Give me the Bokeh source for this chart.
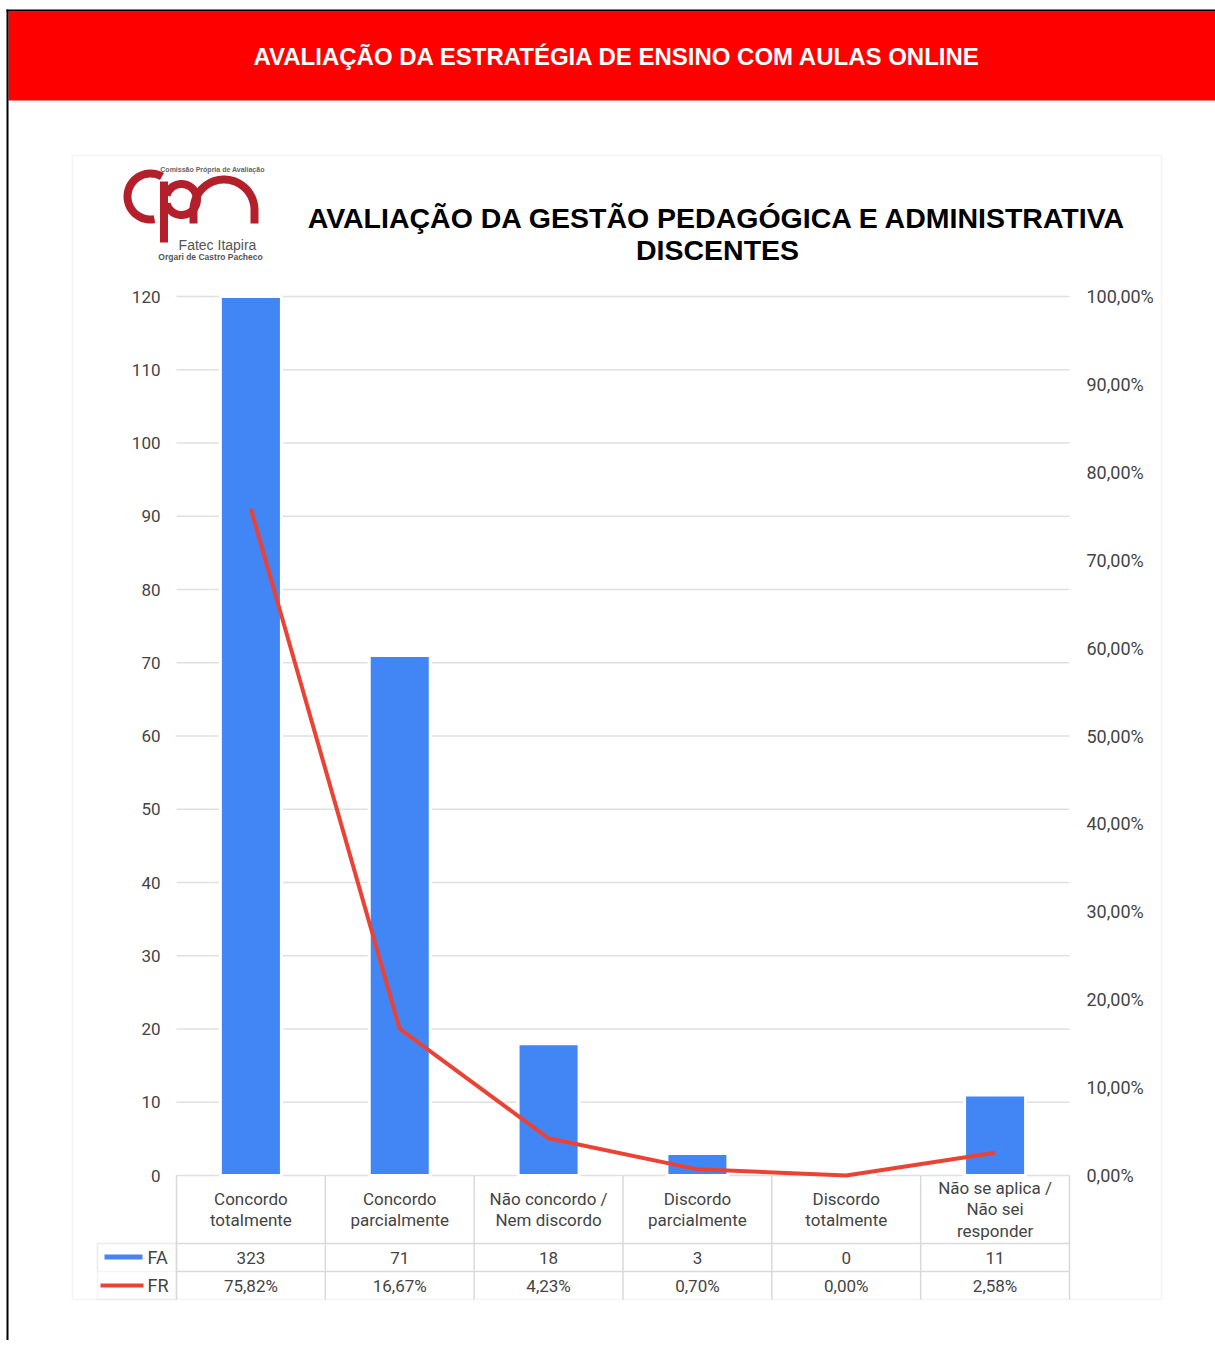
import numpy as np
from bokeh.plotting import figure
from bokeh.models import (Range1d, LinearAxis, FixedTicker, BoxAnnotation, Label,
                          PolyAnnotation, ColumnDataSource, CustomJSTickFormatter)
from bokeh.core.properties import value
from bokeh.embed import file_html
from bokeh.resources import INLINE

# ---------------- data ----------------
header_title = "AVALIAÇÃO DA ESTRATÉGIA DE ENSINO COM AULAS ONLINE"
chart_title = ["AVALIAÇÃO DA GESTÃO PEDAGÓGICA E ADMINISTRATIVA", "DISCENTES"]
categories = ["Concordo\ntotalmente", "Concordo\nparcialmente", "Não concordo /\nNem discordo",
              "Discordo\nparcialmente", "Discordo\ntotalmente", "Não se aplica /\nNão sei\nresponder"]
fa = [323, 71, 18, 3, 0, 11]
fr = [75.82, 16.67, 4.23, 0.70, 0.00, 2.58]
left_ticks = [0, 10, 20, 30, 40, 50, 60, 70, 80, 90, 100, 110, 120]
right_ticks = [0, 10, 20, 30, 40, 50, 60, 70, 80, 90, 100]
series_names = ["FA", "FR"]
logo_texts = ["Comissão Própria de Avaliação", "Fatec Itapira", "Orgari de Castro Pacheco"]

# ---------------- layout (page pixels) ----------------
W, H = 1215, 1340
FL, FRR = 176, 1069          # plot area left / right
Y0, YT = 1175, 296           # pixel rows of 0 and of the axis maximum
ymax = left_ticks[-1]
unit = (Y0 - YT) / ymax
n = len(categories)

def X(px):
    return (px - FL) * n / (FRR - FL)

def Y(py):
    return (Y0 - py) / unit

BLUE = "#4285F4"
RED = "#EA4335"
GRID = "#e0e0e0"
TBL = "#d9d9d9"
TXT = "#444444"
FONT = "Roboto"

p = figure(width=W, height=H, output_backend="svg", toolbar_location=None,
           x_range=Range1d(X(0), X(W)), y_range=Range1d(Y(H), Y(0)),
           min_border=0, min_border_left=0, min_border_right=0,
           min_border_top=0, min_border_bottom=0,
           background_fill_color="white", border_fill_color="white",
           outline_line_color=None, x_axis_location=None, y_axis_location=None)
p.xgrid.visible = False
p.ygrid.visible = False
p.extra_y_ranges = {"pct": Range1d(Y(H) * 100 / ymax, Y(0) * 100 / ymax)}

# axes drawn at the plot-area edges
common = dict(axis_line_color=None, major_tick_line_color=None, minor_tick_line_color=None,
              major_tick_out=0, major_tick_in=0, major_label_text_font=FONT,
              major_label_text_color=TXT)
lax = LinearAxis(fixed_location=0, ticker=FixedTicker(ticks=left_ticks),
                 major_label_standoff=16, major_label_text_font_size="17px", **common)
p.add_layout(lax, "left")
rax = LinearAxis(fixed_location=n, y_range_name="pct", ticker=FixedTicker(ticks=right_ticks),
                 formatter=CustomJSTickFormatter(code="return tick.toFixed(2).replace('.', ',') + '%';"),
                 major_label_standoff=17, major_label_text_font_size="18px", **common)
p.add_layout(rax, "right")

# horizontal grid lines across the plot area
p.segment(x0=0, x1=n, y0=left_ticks, y1=left_ticks, line_color=GRID, line_width=1.5)

xpos = [i + 0.5 for i in range(n)]
src = ColumnDataSource(dict(x=xpos, fa=fa, fr=fr, cat=categories,
                            fa_top=[min(v, ymax) for v in fa],   # clipped at the axis maximum
                            fa_txt=[str(v) for v in fa],
                            fr_txt=[f"{v:.2f}%".replace(".", ",") for v in fr]))

p.vbar(x="x", top="fa_top", bottom=0, width=0.41, source=src,
       fill_color=BLUE, line_color="white", line_width=3)
p.line(x="x", y="fr", y_range_name="pct", source=src, line_color=RED,
       line_width=4, line_join="round")

# ---------------- data table under the chart ----------------
TB = 1299
bounds = list(range(n + 1))
p.segment(x0=bounds, y0=0, x1=bounds, y1=Y(TB), line_color=TBL, line_width=1.5)
p.segment(x0=0, y0=[Y(1243), Y(1271)], x1=n, y1=[Y(1243), Y(1271)], line_color=TBL, line_width=1.5)

p.text(x="x", y=Y(1209), text="cat", source=src, text_align="center", text_baseline="middle",
       text_font=value(FONT), text_font_size="17px", text_color=TXT, text_line_height=1.08)
p.text(x="x", y=Y(1257), text="fa_txt", source=src, text_align="center", text_baseline="middle",
       text_font=value(FONT), text_font_size="17px", text_color=TXT)
p.text(x="x", y=Y(1285), text="fr_txt", source=src, text_align="center", text_baseline="middle",
       text_font=value(FONT), text_font_size="17px", text_color=TXT)

# left legend column of the table
p.add_layout(BoxAnnotation(left=X(97), right=X(176), top=Y(1243), bottom=Y(TB),
                           fill_color=None, line_color=TBL, line_width=1.5))
p.add_layout(BoxAnnotation(left=X(97), right=X(176), top=Y(1243), bottom=Y(1271),
                           fill_color=None, line_color=TBL, line_width=1.5))
p.add_layout(BoxAnnotation(left=X(104), right=X(142), top=Y(1254), bottom=Y(1259),
                           fill_color=BLUE, fill_alpha=1, line_color=None))
p.add_layout(BoxAnnotation(left=X(100), right=X(143), top=Y(1283), bottom=Y(1287),
                           fill_color=RED, fill_alpha=1, line_color=None))
for name, py in zip(series_names, [1257, 1285]):
    p.add_layout(Label(x=X(147), y=Y(py), text=name, text_align="left", text_baseline="middle",
                       text_font=FONT, text_font_size="18px", text_color=TXT))

# panel border
p.add_layout(BoxAnnotation(left=X(72), right=X(1161), top=Y(155), bottom=Y(TB),
                           fill_color=None, line_color=TBL, line_width=1.5))

# ---------------- page header ----------------
p.add_layout(BoxAnnotation(left=X(8), right=X(W), top=Y(11), bottom=Y(100),
                           fill_color="#ff0000", fill_alpha=1, line_color=None))
p.add_layout(BoxAnnotation(left=X(6), right=X(W), top=Y(9), bottom=Y(11),
                           fill_color="black", fill_alpha=1, line_color=None))
p.add_layout(BoxAnnotation(left=X(6), right=X(8), top=Y(9), bottom=Y(H),
                           fill_color="black", fill_alpha=1, line_color=None))
p.add_layout(Label(x=X(617), y=Y(56), text=header_title, text_align="center", text_baseline="middle",
                   text_color="white", text_font="Liberation Sans", text_font_style="bold",
                   text_font_size="24px"))

# chart title
for txt, py in zip(chart_title, [217, 249]):
    p.add_layout(Label(x=X(717), y=Y(py), text=txt, text_align="center", text_baseline="middle",
                       text_color="#000000", text_font="Liberation Sans", text_font_style="bold",
                       text_font_size="28.5px"))

# ---------------- logo ----------------
LOGO = "#b3202c"

def ring(cx, cy, r0, r1, a0, a1, k=48):
    t = np.radians(np.linspace(a0, a1, k))
    xs = np.concatenate([cx + r1 * np.cos(t), cx + r0 * np.cos(t[::-1])])
    ys = np.concatenate([cy + r1 * np.sin(t), cy + r0 * np.sin(t[::-1])])
    return xs, ys

def rect(x0, y0, x1, y1):
    return np.array([x0, x1, x1, x0]), np.array([y0, y0, y1, y1])

shapes = [ring(150, 196, 19, 27, 80, 300), rect(159.5, 181, 167.5, 242),
          ring(181, 199, 11.5, 19.5, -165, 165), ring(223.5, 209.5, 26.5, 34.5, 180, 360),
          rect(189, 209.5, 197, 223), rect(250, 209.5, 258, 223)]
for xs, ys in shapes:
    p.add_layout(PolyAnnotation(xs=[float(X(v)) for v in xs], ys=[float(Y(v)) for v in ys],
                                fill_color=LOGO, fill_alpha=1, line_color=None))

p.add_layout(Label(x=X(212), y=Y(169), text=logo_texts[0], text_align="center", text_baseline="middle",
                   text_color="#666666", text_font="Liberation Sans", text_font_style="bold",
                   text_font_size="7px"))
p.add_layout(Label(x=X(217), y=Y(244), text=logo_texts[1], text_align="center", text_baseline="middle",
                   text_color="#555555", text_font="Liberation Sans", text_font_size="14px"))
p.add_layout(Label(x=X(210), y=Y(256), text=logo_texts[2], text_align="center", text_baseline="middle",
                   text_color="#555555", text_font="Liberation Sans", text_font_style="bold",
                   text_font_size="8.5px"))

open("out.html", "w").write(file_html(p, INLINE))
